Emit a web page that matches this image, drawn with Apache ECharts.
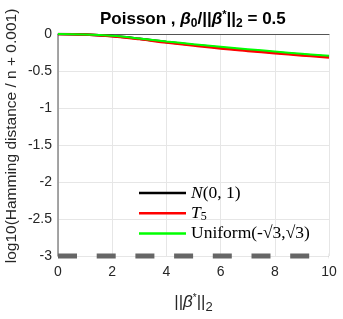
<!DOCTYPE html>
<html><head><meta charset="utf-8">
<script src="https://cdn.jsdelivr.net/npm/echarts@6/dist/echarts.min.js"></script>
<style>html,body{margin:0;padding:0;background:#fff}#c{width:343px;height:319px}</style>
</head><body><div id="c"></div>
<script>
const xValues = [0, 1, 2, 3, 4, 5, 6, 7, 8, 9, 10];
const normalVals = [0, -0.007, -0.028, -0.064, -0.108, -0.147, -0.185, -0.218, -0.249, -0.279, -0.306];
const t5Vals = [0, -0.008, -0.031, -0.069, -0.115, -0.156, -0.196, -0.229, -0.26, -0.29, -0.317];
const uniformVals = [0, -0.006, -0.025, -0.06, -0.1, -0.138, -0.172, -0.205, -0.237, -0.267, -0.295];
const oracleVals = [-3, -3, -3, -3, -3, -3, -3, -3, -3, -3, -3];
const xTicks = [0, 2, 4, 6, 8, 10];
const yTicks = [0, -0.5, -1, -1.5, -2, -2.5, -3];

const pair = (v) => xValues.map((x, i) => [x, v[i]]);
const chart = echarts.init(document.getElementById('c'), null, {renderer: 'canvas'});
const sans = 'Liberation Sans, Arial, sans-serif';
const serif = 'Liberation Serif, Times New Roman, serif';
chart.setOption({
  animation: false,
  backgroundColor: '#fff',
  title: {
    text: '{b|Poisson , }{bi|β}{sub|0}{b|/||}{bi|β}{sup|*}{b|||}{sub|2}{b| = 0.5}',
    left: 95, top: 3,
    textStyle: {
      rich: {
        b: {fontFamily: sans, fontSize: 17, fontWeight: 'bold', color: '#000'},
        bi: {fontFamily: sans, fontSize: 17, fontWeight: 'bold', fontStyle: 'italic', color: '#000'},
        sub: {fontFamily: sans, fontSize: 12, fontWeight: 'bold', color: '#000', padding: [10, 0, 0, 0]},
        sup: {fontFamily: sans, fontSize: 11, fontWeight: 'bold', color: '#000', padding: [0, 0, 9, 0]}
      }
    }
  },
  legend: {
    orient: 'vertical', left: 139, top: 183, padding: 0,
    itemWidth: 47, itemHeight: 2.5, itemGap: 0.3,
    icon: 'rect',
    data: ['N', 'T5', 'U'],
    formatter: function (n) {
      if (n === 'N') return '{i|N}{r|(0, 1)}';
      if (n === 'T5') return '{i|T}{s|5}';
      return '{r|Uniform(-√3,√3)}';
    },
    textStyle: {
      lineHeight: 20,
      rich: {
        i: {fontFamily: serif, fontSize: 17.5, fontStyle: 'italic', color: '#000'},
        r: {fontFamily: serif, fontSize: 17.5, color: '#000'},
        s: {fontFamily: serif, fontSize: 12, color: '#000', padding: [7, 0, 0, 0]}
      }
    }
  },
  grid: {left: 58, right: 14, top: 34, bottom: 61, containLabel: false},
  xAxis: {
    type: 'value', min: 0, max: 10, interval: 2,
    name: '{n|||}{i|β}{sup|*}{n|||}{sub|2}',
    nameLocation: 'middle', nameGap: 35,
    nameTextStyle: {
      rich: {
        n: {fontFamily: sans, fontSize: 17, color: '#262626'},
        i: {fontFamily: sans, fontSize: 17, fontStyle: 'italic', color: '#262626'},
        sub: {fontFamily: sans, fontSize: 13, color: '#262626', padding: [10, 0, 0, 0]},
        sup: {fontFamily: sans, fontSize: 10, color: '#262626', padding: [0, 0, 9, 0]}
      }
    },
    axisLine: {show: true, lineStyle: {color: '#555', width: 1}},
    axisTick: {show: false},
    axisLabel: {fontFamily: sans, fontSize: 14, color: '#262626', margin: 9,
      customValues: xTicks},
    splitLine: {show: true, lineStyle: {color: '#e6e6e6', width: 1}}
  },
  yAxis: {
    type: 'value', min: -3, max: 0, interval: 0.5,
    axisLine: {show: true, lineStyle: {color: '#888', width: 1.5}},
    axisTick: {show: false},
    axisLabel: {fontFamily: sans, fontSize: 14, color: '#262626', margin: 6,
      customValues: yTicks},
    splitLine: {show: true, lineStyle: {color: '#e6e6e6', width: 1}}
  },
  graphic: [{
    type: 'text', x: 12, y: 136, rotation: Math.PI / 2,
    style: {text: 'log10(Hamming distance / n + 0.001)', fontFamily: sans, fontSize: 15.5,
      fill: '#262626', align: 'center', verticalAlign: 'middle'}
  }],
  series: [
    {name: 'oracle', type: 'line', data: pair(oracleVals), symbol: 'none', clip: false,
      lineStyle: {color: '#666', width: 5, type: [19, 19.7], cap: 'butt'}, z: 1},
    {name: 'N', type: 'line', data: pair(normalVals), symbol: 'none', smooth: 0.4,
      color: '#000', lineStyle: {color: '#000', width: 2.5}, z: 2},
    {name: 'T5', type: 'line', data: pair(t5Vals), symbol: 'none', smooth: 0.4,
      color: '#ff0000', lineStyle: {color: '#ff0000', width: 2.5}, z: 3},
    {name: 'U', type: 'line', data: pair(uniformVals), symbol: 'none', smooth: 0.4,
      color: '#00ff00', lineStyle: {color: '#00ff00', width: 2}, z: 4}
  ]
});
</script></body></html>
